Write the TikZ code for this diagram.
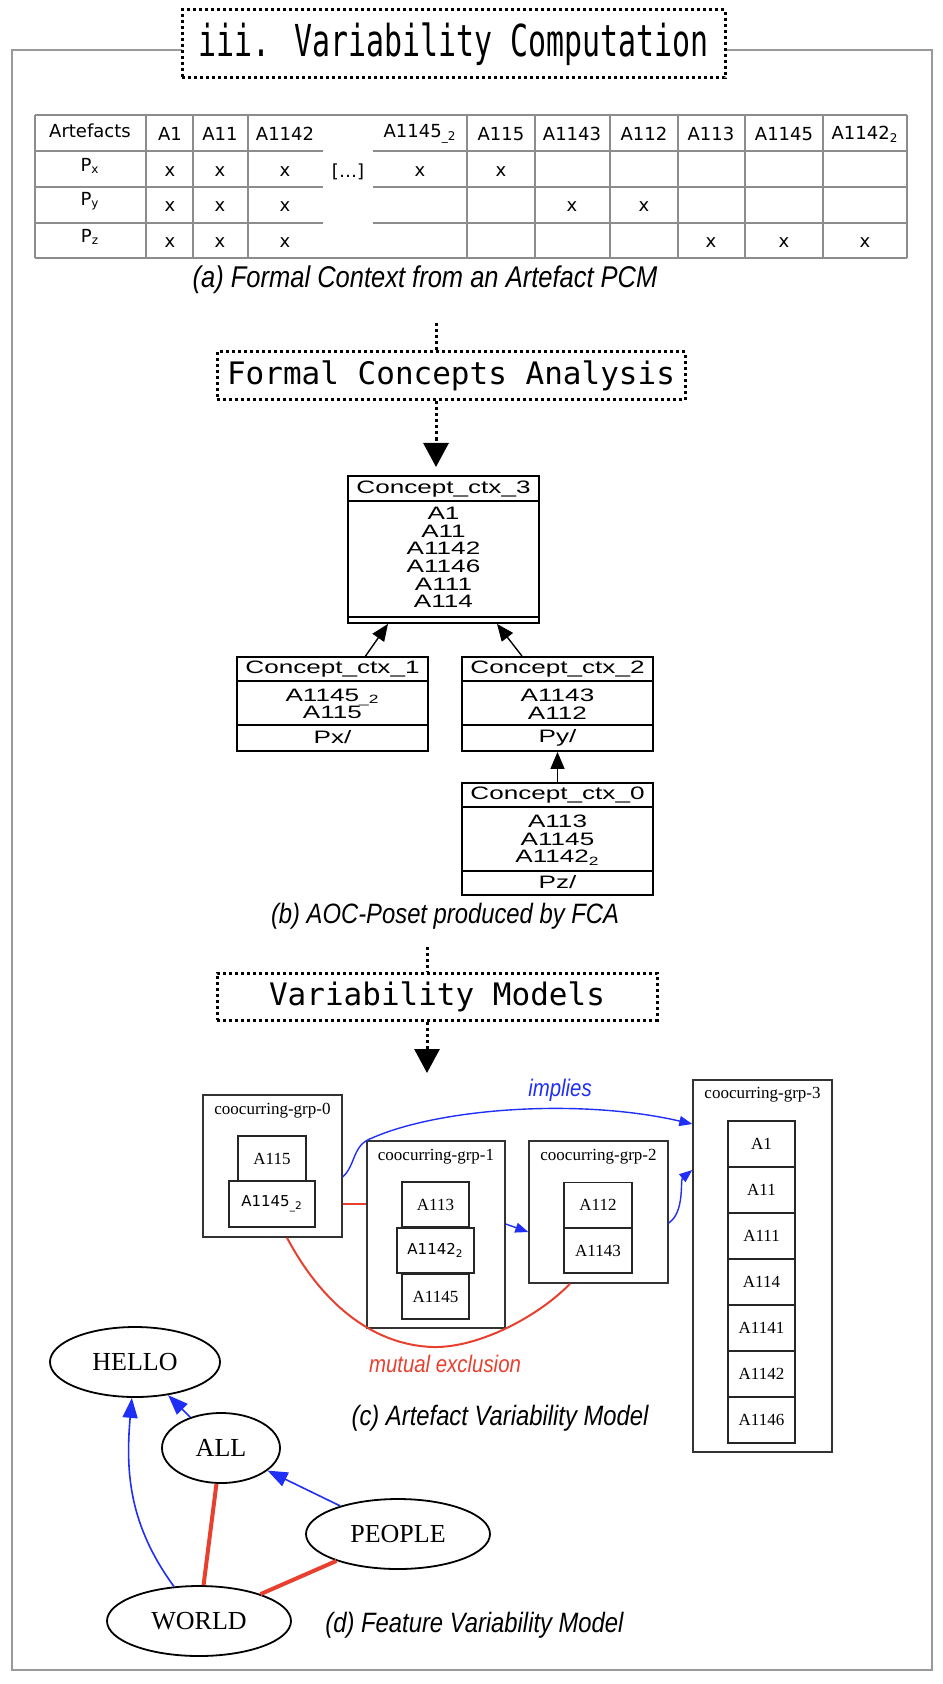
\documentclass[tikz,border=0pt]{standalone}
\usepackage{fontspec}
\setmainfont{Liberation Serif}
\newfontfamily\titlemono[FakeStretch=0.68]{DejaVu Sans Mono}
\newfontfamily\boxmono{DejaVu Sans Mono}
\newfontfamily\tablesans{DejaVu Sans}
\newfontfamily\posetsans[FakeStretch=1.45]{Liberation Sans}
\newfontfamily\capsans[FakeStretch=0.85]{Liberation Sans}
\usepackage{tikz}
\usetikzlibrary{
  arrows.meta,
  calc,
  shapes.geometric
}
\definecolor{FrameGray}{HTML}{9A9A9A}
\definecolor{GridGray}{HTML}{8C8C8C}
\definecolor{ImplyBlue}{HTML}{1F2FF5}
\definecolor{ExclRed}{HTML}{E8402F}

\begin{document}
\begin{tikzpicture}[
  x=0.5pt, y=-0.5pt,
  outerframe/.style={draw=FrameGray, line width=1pt},
  dotbox/.style={
    draw, fill=white,
    line width=1.5pt,
    dash pattern=on 1.5pt off 1.5pt,
    inner sep=0pt
  },
  dotline/.style={line width=1.5pt, dash pattern=on 1.5pt off 1.5pt},
  dotarrow/.style={dotline, -{Triangle[length=12pt,width=12.5pt]}},
  pcmline/.style={draw=GridGray, line width=1pt},
  cell/.style={font=\tablesans\fontsize{9}{11}\selectfont, inner sep=0pt},
  capt/.style={font=\capsans\itshape\fontsize{14}{16}\selectfont, inner sep=0pt},
  concept/.style={draw, line width=0.9pt, minimum width=95.5pt, inner sep=0pt},
  ptext/.style={
    font=\posetsans\fontsize{9}{8.85}\selectfont,
    align=center,
    inner sep=0pt
  },
  isa/.style={line width=0.7pt, -{Triangle[length=8.5pt,width=7pt]}},
  grp/.style={draw=black!80, line width=0.7pt, inner sep=0pt},
  member/.style={
    draw=black!85,
    line width=0.7pt,
    inner sep=0pt,
    minimum width=33.5pt,
    minimum height=22.5pt,
    font=\fontsize{8.5}{10}\selectfont
  },
  grplabel/.style={font=\fontsize{8.5}{10}\selectfont, inner sep=0pt},
  edgelabel/.style={font=\capsans\itshape\fontsize{12}{14}\selectfont, inner sep=0pt},
  implies/.style={draw=ImplyBlue, line width=0.7pt, -{Triangle[length=6.5pt,width=5pt]}},
  excl/.style={draw=ExclRed, line width=1pt},
  feat/.style={
    draw, ellipse,
    line width=0.9pt,
    inner sep=0pt,
    minimum height=35pt,
    font=\fontsize{13}{15}\selectfont
  },
  req/.style={draw=ImplyBlue, line width=0.8pt, -{Triangle[length=10pt,width=7.5pt]}},
  mutex/.style={draw=ExclRed, line width=2pt}
]
\useasboundingbox (0,0) rectangle (942,1684);

\draw[outerframe] (12,50) rectangle (932,1670);
\node[dotbox, font=\titlemono\fontsize{22}{24}\selectfont,
  minimum width=271.5pt, minimum height=34pt] (title) at (453.5,44)
  {iii. Variability Computation};

% (a) formal context
\draw[pcmline] (35,115) -- (907,115);
\draw[pcmline] (35,258) -- (907,258);
\foreach \yy in {151,187,223} {
  \draw[pcmline] (35,\yy) -- (323,\yy);
  \draw[pcmline] (373,\yy) -- (907,\yy);
}
\foreach \xx in {35,146,193,248,467,535,610,678,745,823,907}
  \draw[pcmline] (\xx,115) -- (\xx,258);

\node[cell] (hart) at (90,131) {Artefacts};
\foreach \xx/\lbl [count=\i] in {170/A1, 220/A11, 285/A1142,
  420/{A1145\textsubscript{\_2}}, 501/A115, 572/A1143, 644/A112,
  711/A113, 784/A1145, 865/{A1142\textsubscript{2}}}
  \node[cell] (h\i) at (\xx,134) {\lbl};

\node[cell] (rpx) at (90,166) {P\textsubscript{x}};
\node[cell] (rpy) at (90,201) {P\textsubscript{y}};
\node[cell] (rpz) at (90,237) {P\textsubscript{z}};
\node[cell] (gap) at (348,172) {[…]};

\foreach \xx in {170,220,285,420,501}
  \node[cell] (mx\xx) at (\xx,172) {x};
\foreach \xx in {170,220,285,572,644}
  \node[cell] (my\xx) at (\xx,207) {x};
\foreach \xx in {170,220,285,711,784,865}
  \node[cell] (mz\xx) at (\xx,243) {x};

\node[capt, font=\capsans\itshape\fontsize{15}{17}\selectfont] (capa) at (425,280)
  {(a) Formal Context from an Artefact PCM};

% FCA step
\coordinate (fcain) at (436,323);
\coordinate (fcaout) at (436,467);
\node[dotbox, font=\boxmono\fontsize{15.5}{18}\selectfont,
  minimum width=234pt, minimum height=24pt] (fca) at (451,376)
  {Formal Concepts Analysis};
\draw[dotline] (fcain) -- (fcain |- fca.north);
\draw[dotarrow] (fca.south -| fcain) -- (fcaout);

% (b) AOC-poset
\node[concept, minimum height=73.5pt] (c3) at (443.5,549.5) {};
\node[concept, minimum height=47pt] (c1) at (332.5,704) {};
\node[concept, minimum height=47pt] (c2) at (557.5,704) {};
\node[concept, minimum height=56pt] (c0) at (557.5,839) {};

\draw[line width=0.9pt] ($(c3.north west)+(0,26)$) -- ($(c3.north east)+(0,26)$);
\draw[line width=0.9pt] ($(c3.south west)+(0,-7)$) -- ($(c3.south east)+(0,-7)$);
\draw[line width=0.9pt] ($(c1.north west)+(0,25)$) -- ($(c1.north east)+(0,25)$);
\draw[line width=0.9pt] ($(c1.south west)+(0,-27)$) -- ($(c1.south east)+(0,-27)$);
\draw[line width=0.9pt] ($(c2.north west)+(0,25)$) -- ($(c2.north east)+(0,25)$);
\draw[line width=0.9pt] ($(c2.south west)+(0,-27)$) -- ($(c2.south east)+(0,-27)$);
\draw[line width=0.9pt] ($(c0.north west)+(0,25)$) -- ($(c0.north east)+(0,25)$);
\draw[line width=0.9pt] ($(c0.south west)+(0,-25)$) -- ($(c0.south east)+(0,-25)$);

\node[ptext] (c3name) at (443.5,489) {Concept\_ctx\_3};
\node[ptext] (c3ext) at (443.5,557.5) {A1\\A11\\A1142\\A1146\\A111\\A114};
\node[ptext] (c1name) at (332.5,669.5) {Concept\_ctx\_1};
\node[ptext] (c1ext) at (332.5,704) {A1145\textsubscript{\_2}\\A115};
\node[ptext] (c1int) at (332.5,737.5) {Px/};
\node[ptext] (c2name) at (557.5,669.5) {Concept\_ctx\_2};
\node[ptext] (c2ext) at (557.5,704) {A1143\\A112};
\node[ptext] (c2int) at (557.5,737.5) {Py/};
\node[ptext] (c0name) at (557.5,795.5) {Concept\_ctx\_0};
\node[ptext] (c0ext) at (557.5,840) {A113\\A1145\\A1142\textsubscript{2}};
\node[ptext] (c0int) at (557.5,882.5) {Pz/};

\draw[isa] ($(c1.north)+(33,0)$) -- ($(c3.south)+(-55.5,0)$);
\draw[isa] ($(c2.north)+(-35.5,0)$) -- ($(c3.south)+(53.5,0)$);
\draw[isa] (c0.north) -- (c2.south);

\node[capt] (capb) at (445,916) {(b) AOC-Poset produced by FCA};

% variability models step
\coordinate (vmin) at (427,947);
\coordinate (vmout) at (427,1073);
\node[dotbox, font=\boxmono\fontsize{15.5}{18}\selectfont,
  minimum width=220pt, minimum height=23.5pt] (vm) at (437,996.5)
  {Variability Models};
\draw[dotline] (vmin) -- (vmin |- vm.north);
\draw[dotarrow] (vm.south -| vmin) -- (vmout);

% (c) artefact variability model
\node[grp, minimum width=69.5pt, minimum height=71pt] (g0) at (272.5,1166) {};
\node[grplabel] (g0name) at (272.5,1111) {coocurring-grp-0};
\node[member, minimum width=34pt] (a115) at (272,1158.5) {A115};
\node[member, minimum width=43pt, minimum height=23pt,
  font=\tablesans\fontsize{7.5}{9}\selectfont] (a1145u) at (272,1204)
  {A1145\textsubscript{\_2}};

\node[grp, minimum width=69pt, minimum height=93.5pt] (g1) at (436,1234.5) {};
\node[grplabel] (g1name) at (436,1157) {coocurring-grp-1};
\node[member] (a113) at (435.5,1204.5) {A113};
\node[member, minimum width=38.5pt,
  font=\tablesans\fontsize{7.5}{9}\selectfont] (a1142s) at (435.5,1250.5)
  {A1142\textsubscript{2}};
\node[member] (a1145) at (435.5,1296.5) {A1145};

\node[grp, minimum width=69.5pt, minimum height=71pt] (g2) at (598.5,1212) {};
\node[grplabel] (g2name) at (598.5,1157) {coocurring-grp-2};
\node[member, minimum width=34pt] (a112) at (598,1205) {A112};
\node[member, minimum width=34pt] (a1143) at (598,1250.5) {A1143};

\node[grp, minimum width=69.5pt, minimum height=186pt] (g3) at (762.5,1266) {};
\node[grplabel] (g3name) at (762.5,1095) {coocurring-grp-3};
\foreach \lbl [count=\k from 0] in {A1,A11,A111,A114,A1141,A1142,A1146}
  \node[member, minimum height=23pt] (g3m\k) at (761.5,1144+46*\k) {\lbl};

\draw[implies] ($(g0.east)+(0,11)$) .. controls (356,1165) and (352,1145) .. (372,1138)
  .. controls (440,1108) and (580,1098) .. ($(g3.west)+(0,-142)$);
\node[edgelabel, text=ImplyBlue] (implylbl) at (560,1090) {implies};
\draw[implies] ($(g1.east)+(0,-10.5)$) -- ($(g2.west)+(0,20)$);
\draw[implies] ($(g2.east)+(0,11)$) .. controls (685,1212) and (680,1180)
  .. ($(g3.west)+(0,-96)$);
\draw[excl] ($(g0.east)+(0,38)$) -- ($(g1.west)+(0,-30.5)$);
\draw[excl] ($(g0.south)+(14.5,0)$) .. controls (320,1300) and (370,1345) .. (433,1347)
  .. controls (480,1348) and (540,1315) .. ($(g2.south)+(-28.5,0)$);
\node[edgelabel, text=ExclRed] (excllbl) at (445,1364) {mutual exclusion};

\node[capt] (capc) at (500,1418) {(c) Artefact Variability Model};

% (d) feature variability model
\node[feat, minimum width=85pt] (hello) at (135,1362) {HELLO};
\node[feat, minimum width=59pt] (all) at (221,1448) {ALL};
\node[feat, minimum width=92pt] (people) at (398,1534) {PEOPLE};
\node[feat, minimum width=92pt] (world) at (199,1621) {WORLD};

\draw[req] (all) -- (hello);
\draw[req] (people) -- (all);
\draw[req] (world) to[out=126,in=-95] (hello);
\draw[mutex] (all) -- (world);
\draw[mutex] (people) -- (world);

\node[capt] (capd) at (474.5,1625) {(d) Feature Variability Model};
\end{tikzpicture}
\end{document}
